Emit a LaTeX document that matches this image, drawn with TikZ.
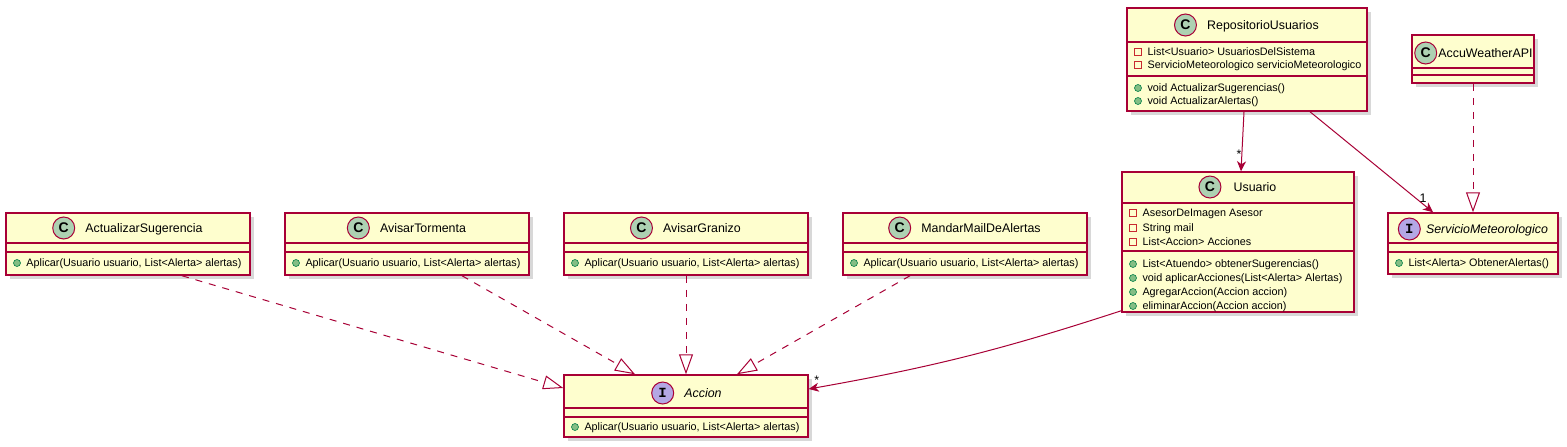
\documentclass[tikz,border=0pt]{standalone}
\usepackage{fontspec}
\setmainfont{Liberation Sans}
\newfontfamily\iconfont{Liberation Mono}
\usetikzlibrary{positioning,arrows.meta,shadows}
\definecolor{umlred}{HTML}{A80036}
\definecolor{umlfill}{HTML}{FEFECE}
\definecolor{classicon}{HTML}{ADD1B2}
\definecolor{ifaceicon}{HTML}{B4A7E5}
\definecolor{privred}{HTML}{C82930}
\definecolor{pubgreen}{HTML}{84BE84}
\definecolor{pubdark}{HTML}{038048}
\begin{document}
\begin{tikzpicture}[x=1pt,y=-1pt,
  classbox/.style={draw=umlred,line width=1.5pt,fill=umlfill,inner sep=0pt,
    drop shadow={shadow xshift=4pt,shadow yshift=-4pt,opacity=0.3}},
  sepline/.style={umlred,line width=1.5pt},
  cname/.style={inner sep=0pt,text height=8.8pt,text depth=0pt,font=\fontsize{12.4}{14}\selectfont},
  iname/.style={cname,font=\fontsize{12.4}{14}\selectfont\itshape},
  cicon/.style={circle,draw=umlred,line width=1pt,fill=classicon,minimum size=22pt,inner sep=0pt,
    font=\fontsize{14}{14}\selectfont\bfseries},
  iicon/.style={cicon,fill=ifaceicon,font=\iconfont\fontsize{14}{14}\selectfont\bfseries},
  privmark/.style={draw=privred,line width=1pt,minimum size=7pt,inner sep=0pt},
  pubmark/.style={circle,draw=pubdark,line width=0.6pt,fill=pubgreen,minimum size=7pt,inner sep=0pt},
  rowtext/.style={inner sep=0pt,text height=7.8pt,text depth=0pt,font=\fontsize{10.8}{13}\selectfont},
  assoc/.style={umlred,line width=1pt,-{Stealth[length=10pt,width=9pt,inset=3pt]}},
  realize/.style={umlred,line width=1pt,dash pattern=on 7pt off 7pt,
    -{Triangle[length=20pt,width=14pt,fill=white]}},
  mult/.style={inner sep=0pt,text=black,font=\fontsize{12.4}{14}\selectfont}]
\path[fill=white,use as bounding box] (0,0) rectangle (1567,447);

% the four actions
\foreach \cls/\cx/\ctitle in {actsug/128/ActualizarSugerencia,tormenta/407/AvisarTormenta,
    granizo/686/AvisarGranizo,mail/965/MandarMailDeAlertas}
{
    \node[classbox,minimum width=244pt,minimum height=62pt] (\cls) at (\cx,244) {};
    \draw[sepline] (\cls.west |- 0,243)--(\cls.east |- 0,243);
    \draw[sepline] (\cls.west |- 0,252)--(\cls.east |- 0,252);
    \node[cname] (\cls-name) at (\cx+16,228) {\ctitle};
    \node[cicon,left=10pt of \cls-name] (\cls-icon) {C};
    \node[pubmark] (\cls-m1) at (\cx-111,263) {};
    \node[rowtext,right=5.5pt of \cls-m1] (\cls-mt1) {Aplicar(Usuario usuario, List<Alerta> alertas)};
}

% interface Accion
\node[classbox,minimum width=244pt,minimum height=62pt] (accion) at (686,406) {};
\draw[sepline] (accion.west |- 0,408)--(accion.east |- 0,408);
\draw[sepline] (accion.west |- 0,417)--(accion.east |- 0,417);
\node[iname] (accion-name) at (703,393) {Accion};
\node[iicon,left=10pt of accion-name] (accion-icon) {I};
\node[pubmark] (accion-m1) at (575,427) {};
\node[rowtext,right=5.5pt of accion-m1] (accion-mt1) {Aplicar(Usuario usuario, List<Alerta> alertas)};

% Usuario
\node[classbox,minimum width=232pt,minimum height=140pt] (usuario) at (1238,242) {};
\draw[sepline] (usuario.west |- 0,203)--(usuario.east |- 0,203);
\draw[sepline] (usuario.west |- 0,251)--(usuario.east |- 0,251);
\node[cname] (usuario-name) at (1255,187) {Usuario};
\node[cicon,left=12pt of usuario-name] (usuario-icon) {C};
\foreach \row/\ry/\rtext in {1/213/{AsesorDeImagen Asesor},2/228/{String mail},3/242/{List<Accion> Acciones}}
{
    \node[privmark] (usuario-a\row) at (1133,\ry) {};
    \node[rowtext,right=5.5pt of usuario-a\row] (usuario-at\row) {\rtext};
}
\foreach \row/\ry/\rtext in {1/264/{List<Atuendo> obtenerSugerencias()},
    2/278/{void aplicarAcciones(List<Alerta> Alertas)},
    3/292/{AgregarAccion(Accion accion)},4/306/{eliminarAccion(Accion accion)}}
{
    \node[pubmark] (usuario-m\row) at (1133,\ry) {};
    \node[rowtext,right=5.5pt of usuario-m\row] (usuario-mt\row) {\rtext};
}

% RepositorioUsuarios
\node[classbox,minimum width=240pt,minimum height=103pt] (repo) at (1247,59.5) {};
\draw[sepline] (repo.west |- 0,42)--(repo.east |- 0,42);
\draw[sepline] (repo.west |- 0,76)--(repo.east |- 0,76);
\node[cname] (repo-name) at (1263,25) {RepositorioUsuarios};
\node[cicon,left=10pt of repo-name] (repo-icon) {C};
\foreach \row/\ry/\rtext in {1/52/{List<Usuario> UsuariosDelSistema},2/65/{ServicioMeteorologico servicioMeteorologico}}
{
    \node[privmark] (repo-a\row) at (1138,\ry) {};
    \node[rowtext,right=5.5pt of repo-a\row] (repo-at\row) {\rtext};
}
\foreach \row/\ry/\rtext in {1/88/{void ActualizarSugerencias()},2/101/{void ActualizarAlertas()}}
{
    \node[pubmark] (repo-m\row) at (1138,\ry) {};
    \node[rowtext,right=5.5pt of repo-m\row] (repo-mt\row) {\rtext};
}

% AccuWeatherAPI
\node[classbox,minimum width=122pt,minimum height=48pt] (accu) at (1473,59) {};
\draw[sepline] (accu.west |- 0,68)--(accu.east |- 0,68);
\draw[sepline] (accu.west |- 0,75)--(accu.east |- 0,75);
\node[cname] (accu-name) at (1485.5,53) {AccuWeatherAPI};
\node[cicon,left=1pt of accu-name] (accu-icon) {C};

% interface ServicioMeteorologico
\node[classbox,minimum width=170pt,minimum height=61pt] (servicio) at (1473,243.5) {};
\draw[sepline] (servicio.west |- 0,243)--(servicio.east |- 0,243);
\draw[sepline] (servicio.west |- 0,252)--(servicio.east |- 0,252);
\node[iname] (servicio-name) at (1487,229) {ServicioMeteorologico};
\node[iicon,left=5pt of servicio-name] (servicio-icon) {I};
\node[pubmark] (servicio-m1) at (1399,263) {};
\node[rowtext,right=5.5pt of servicio-m1] (servicio-mt1) {List<Alerta> ObtenerAlertas()};

% realizations
\draw[realize] ([xshift=54pt]actsug.south)--([yshift=18pt]accion.west);
\draw[realize] ([xshift=55pt]tormenta.south)--([xshift=-51pt]accion.north);
\draw[realize] (granizo.south)--(accion.north);
\draw[realize] ([xshift=-55pt]mail.south)--([xshift=51pt]accion.north);
\draw[realize] (accu.south)--(servicio.north);

% associations
\draw[assoc] ([yshift=2pt]usuario.south west) to[bend left=4]
    node[mult,pos=1,anchor=south west,xshift=5pt,yshift=4pt] (usuario-mult) {*}
    ([yshift=17pt]accion.east);
\draw[assoc] ([xshift=-3pt]repo.south)--
    node[mult,pos=1,anchor=south east,xshift=1pt,yshift=12pt] (repo-mult1) {*}
    ([xshift=3pt]usuario.north);
\draw[assoc] ([xshift=63pt]repo.south)--
    node[mult,pos=1,anchor=south east,xshift=-6pt,yshift=9pt] (repo-mult2) {1}
    ([xshift=-40pt]servicio.north);
\end{tikzpicture}
\end{document}
